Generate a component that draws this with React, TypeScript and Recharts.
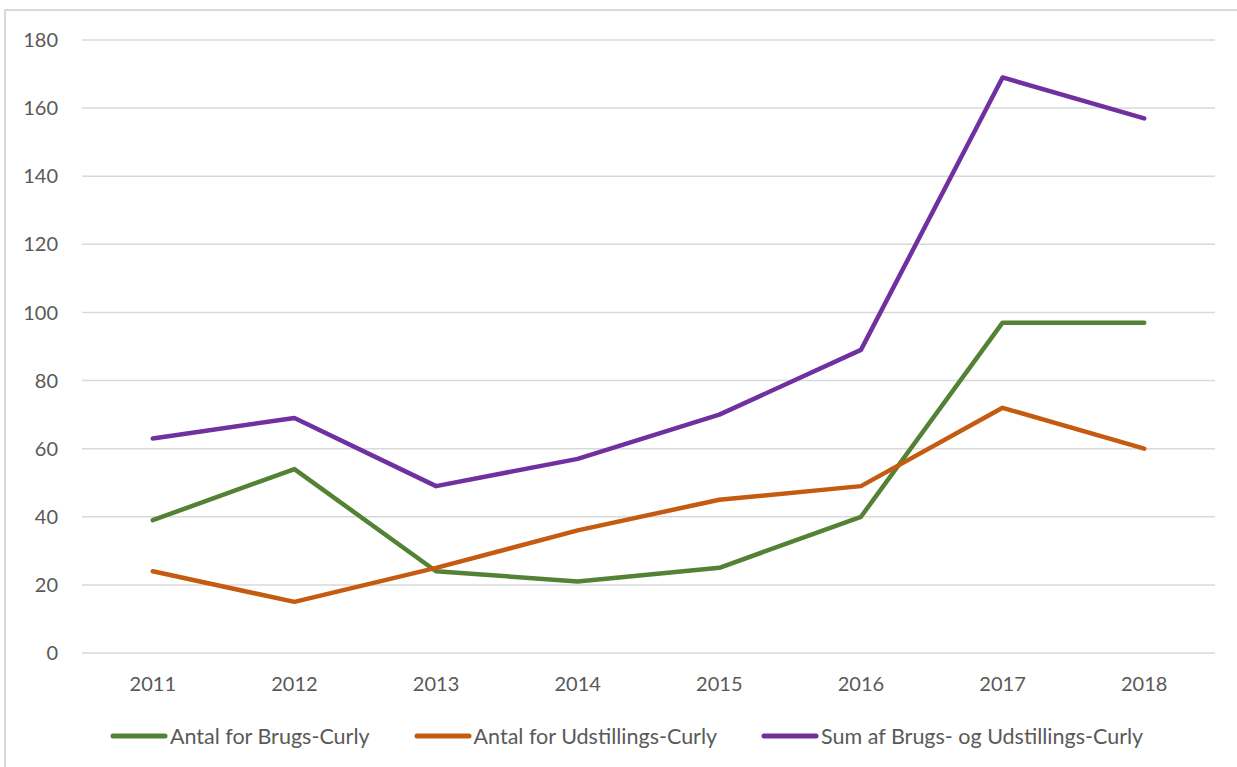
import React from "react";
import { LineChart, Line, XAxis, YAxis, CartesianGrid, Legend } from "recharts";

const years = ["2011", "2012", "2013", "2014", "2015", "2016", "2017", "2018"];
const brugs = [39, 54, 24, 21, 25, 40, 97, 97];
const udstillings = [24, 15, 25, 36, 45, 49, 72, 60];
const sumBoth = [63, 69, 49, 57, 70, 89, 169, 157];
const yTicks = [0, 20, 40, 60, 80, 100, 120, 140, 160, 180];

const seriesInfo = [
  { key: "brugs", name: "Antal for Brugs-Curly", color: "#548235" },
  { key: "udstillings", name: "Antal for Udstillings-Curly", color: "#C55A11" },
  { key: "sum", name: "Sum af Brugs- og Udstillings-Curly", color: "#7030A0" },
];

const data = years.map((year, i) => ({
  year,
  brugs: brugs[i],
  udstillings: udstillings[i],
  sum: sumBoth[i],
}));

const FONT = "Lato, 'Open Sans', sans-serif";
const TEXT = "#595959";

function LegendRow() {
  return (
    <div style={{ display: "flex", justifyContent: "center", gap: 44, fontFamily: FONT, fontSize: 21.5, color: TEXT, paddingLeft: 16 }}>
      {seriesInfo.map(s => (
        <div key={s.key} style={{ display: "flex", alignItems: "center" }}>
          <svg width={58} height={10} style={{ marginRight: 2 }}>
            <line x1={3} y1={5} x2={55} y2={5} stroke={s.color} strokeWidth={5} strokeLinecap="round" />
          </svg>
          <span>{s.name}</span>
        </div>
      ))}
    </div>
  );
}

export default function App() {
  return (
    <div style={{ position: "fixed", left: 0, top: 0, width: 1237, height: 767, overflow: "hidden", background: "#fff" }}>
      <div style={{ position: "absolute", left: 4, top: 9, width: 1250, height: 780, border: "2px solid #d9d9d9" }} />
      <div style={{ position: "absolute", left: 0, top: 0 }}>
        <LineChart width={1237} height={767} data={data} margin={{ top: 40, right: 22, left: 0, bottom: 58 }}>
          <CartesianGrid vertical={false} stroke="#d9d9d9" strokeWidth={1.5} />
          <XAxis
            dataKey="year"
            axisLine={false}
            tickLine={false}
            padding={{ left: 70.8, right: 70.8 }}
            tick={{ fill: TEXT, fontSize: 20, fontFamily: FONT }}
            tickMargin={18}
          />
          <YAxis
            width={82}
            domain={[0, 180]}
            ticks={yTicks}
            interval={0}
            axisLine={false}
            tickLine={false}
            tick={{ fill: TEXT, fontSize: 20, fontFamily: FONT }}
            tickMargin={18}
          />
          {seriesInfo.map(s => (
            <Line
              key={s.key}
              type="linear"
              dataKey={s.key}
              name={s.name}
              stroke={s.color}
              strokeWidth={4.5}
              strokeLinecap="round"
              strokeLinejoin="round"
              dot={false}
              activeDot={false}
              isAnimationActive={false}
            />
          ))}
          <Legend
            verticalAlign="bottom"
            content={() => <LegendRow />}
            wrapperStyle={{ left: 0, width: 1237, bottom: 18 }}
          />
        </LineChart>
      </div>
    </div>
  );
}
